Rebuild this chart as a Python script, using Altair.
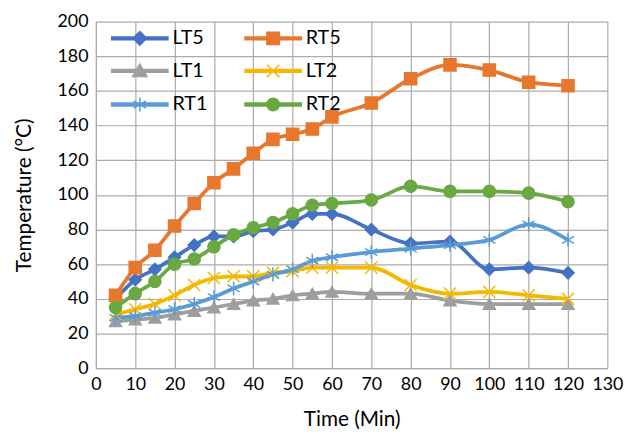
import altair as alt
import pandas as pd

time = [5, 10, 15, 20, 25, 30, 35, 40, 45, 50, 55, 60, 70, 80, 90, 100, 110, 120]
LT5 = [40, 51, 57, 64, 71, 76, 76, 79, 80, 84, 89, 89, 80, 72, 73, 57, 58, 55]
RT5 = [42, 58, 68, 82, 95, 107, 115, 124, 132, 135, 138, 145, 153, 167, 175, 172, 165, 163]
LT1 = [27, 28, 29, 31, 33, 35, 37, 39, 40, 42, 43, 44, 43, 43, 39, 37, 37, 37]
LT2 = [31, 34, 37, 42, 48, 52, 53, 53, 55, 56, 58, 58, 58, 48, 43, 44, 42, 40]
RT1 = [29, 30, 32, 34, 37, 41, 46, 50, 54, 57, 62, 64, 67, 69, 71, 74, 83, 74]
RT2 = [35, 43, 50, 60, 63, 70, 77, 81, 84, 89, 94, 95, 97, 105, 102, 102, 101, 96]

series_names = ["LT5", "RT5", "LT1", "LT2", "RT1", "RT2"]
series_values = [LT5, RT5, LT1, LT2, RT1, RT2]
colors = ["#4472C4", "#E8772E", "#9E9E9E", "#F5B800", "#5B9BD5", "#6AA842"]

x_ticks = list(range(0, 131, 10))
y_ticks = list(range(0, 201, 20))

# marker shapes in the plot
plot_shapes = [
    "diamond",
    "square",
    "triangle-up",
    "M-1,-1L1,1M-1,1L1,-1",
    "M0,-1.15L0,1.15M-1,-0.58L1,0.58M-1,0.58L1,-0.58",
    "circle",
]
# legend symbols: a line segment with the marker on it
bar = "M-4.75,-0.24L4.75,-0.24L4.75,0.24L-4.75,0.24Z"
legend_shapes = [
    bar + "M0,-1.15L1.15,0L0,1.15L-1.15,0Z",
    bar + "M-1.05,-1.05L1.05,-1.05L1.05,1.05L-1.05,1.05Z",
    bar + "M0,-1.15L1.2,0.95L-1.2,0.95Z",
    bar + "M-1.05,-1.05L1.05,1.05M-1.05,1.05L1.05,-1.05",
    bar + "M0,-1.2L0,1.2M-1.05,-0.6L1.05,0.6M-1.05,0.6L1.05,-0.6",
    bar + "M1.05,0A1.05,1.05,0,1,1,-1.05,0A1.05,1.05,0,1,1,1.05,0Z",
]
# legend is filled column by column: rows read LT5 RT5 / LT1 LT2 / RT1 RT2
legend_order = [0, 2, 4, 1, 3, 5]
legend_domain = [series_names[i] for i in legend_order]
legend_colors = [colors[i] for i in legend_order]
legend_symbols = [legend_shapes[i] for i in legend_order]

rows = []
for name, vals in zip(series_names, series_values):
    for t, v in zip(time, vals):
        rows.append({"time": t, "temp": v, "series": name, "lg": name})
df = pd.DataFrame(rows)

FONT = "Lato"

x_enc = alt.X(
    "time:Q",
    scale=alt.Scale(domain=[0, 130], nice=False, zero=False),
    axis=alt.Axis(
        values=x_ticks,
        title="Time (Min)",
        labelFontSize=18,
        titleFontSize=21,
        labelPadding=8,
        titlePadding=15,
        ticks=False,
        labelFlush=False,
        labelOverlap=False,
    ),
)
y_enc = alt.Y(
    "temp:Q",
    scale=alt.Scale(domain=[0, 200], nice=False),
    axis=alt.Axis(
        values=y_ticks,
        title="Temperature (°C)",
        labelFontSize=18,
        titleFontSize=21,
        labelPadding=8,
        titlePadding=23,
        ticks=False,
        labelFlush=False,
        labelOverlap=False,
    ),
)

color_scale = alt.Scale(domain=series_names, range=colors)

lines = alt.Chart(df).mark_line(strokeWidth=3.8, interpolate="monotone").encode(
    x=x_enc,
    y=y_enc,
    color=alt.Color("series:N", scale=color_scale, legend=None),
)

points = alt.Chart(df).mark_point(filled=True, size=150, strokeWidth=1.5, opacity=1).encode(
    x=x_enc,
    y=y_enc,
    fill=alt.Fill("series:N", scale=color_scale, legend=None),
    stroke=alt.Stroke("series:N", scale=color_scale, legend=None),
    shape=alt.Shape("series:N", scale=alt.Scale(domain=series_names, range=plot_shapes), legend=None),
)

leg = alt.Legend(
    title=None,
    orient="none",
    legendX=12,
    legendY=7,
    columns=2,
    symbolSize=144,
    symbolOffset=22.5,
    symbolStrokeWidth=1.5,
    labelOffset=23,
    labelFontSize=20,
    labelFont=FONT,
    labelColor="#000000",
    columnPadding=34,
    rowPadding=13,
    padding=0,
)

legend_layer = (
    alt.Chart(df)
    .transform_filter("false")
    .mark_point(filled=True, strokeWidth=1.5, opacity=1)
    .encode(
        x=x_enc,
        y=y_enc,
        fill=alt.Fill("lg:N", scale=alt.Scale(domain=legend_domain, range=legend_colors), legend=leg),
        stroke=alt.Stroke("lg:N", scale=alt.Scale(domain=legend_domain, range=legend_colors), legend=leg),
        shape=alt.Shape("lg:N", scale=alt.Scale(domain=legend_domain, range=legend_symbols), legend=leg),
    )
)

chart = (
    alt.layer(lines, points, legend_layer)
    .resolve_scale(fill="independent", stroke="independent", shape="independent")
    .properties(
        width=518,
        height=351,
        autosize=alt.AutoSizeParams(type="none"),
        padding={"left": 89, "top": 11, "right": 29, "bottom": 66},
    )
    .configure(font=FONT)
    .configure_view(stroke=None)
    .configure_axis(
        gridColor="#ABABAB",
        gridWidth=1.2,
        domainColor="#ABABAB",
        domainWidth=1.2,
        labelColor="#000000",
        titleColor="#000000",
        labelFont=FONT,
        titleFont=FONT,
        titleFontWeight="normal",
    )
)

chart.save("out.html", embed_options={"renderer": "svg", "actions": False})
